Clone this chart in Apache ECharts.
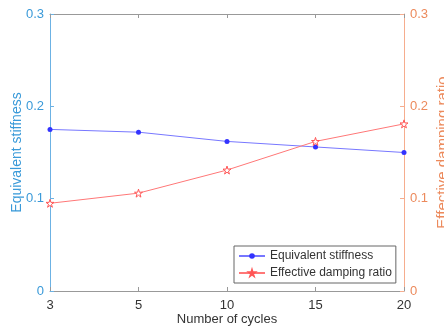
<!DOCTYPE html>
<html>
<head>
<meta charset="utf-8">
<script src="https://cdn.jsdelivr.net/npm/echarts@6/dist/echarts.min.js"></script>
<style>
  html, body { margin: 0; padding: 0; background: #fff; }
  #chart { width: 444px; height: 330px; }
</style>
</head>
<body>
<div id="chart"></div>
<script>
// 数据
var cycles = ['3', '5', '10', '15', '20'];
var stiffness = [0.175, 0.172, 0.162, 0.156, 0.150];
var damping = [0.095, 0.106, 0.131, 0.162, 0.181];

var star = 'path://M50,0 L61,35 L98,35 L68,57 L79,91 L50,70 L21,91 L32,57 L2,35 L39,35 Z';
var font = 'Liberation Sans, Arial, sans-serif';

var myChart = echarts.init(document.getElementById('chart'));
var option = {
    animation: false,
    textStyle: { fontFamily: font },
    grid: { left: 50, right: 40, top: 14, bottom: 39, outerBoundsMode: 'none', containLabel: false },
    legend: {
        left: 234, top: 246, orient: 'vertical',
        itemWidth: 26, itemHeight: 7, itemGap: 5,
        padding: [4, 4, 4, 4],
        borderColor: '#666', borderWidth: 1, backgroundColor: '#fff',
        textStyle: { fontSize: 12, color: '#333', fontFamily: font },
        data: ['Equivalent stiffness', 'Effective damping ratio']
    },
    xAxis: [{
        type: 'category', data: cycles, boundaryGap: false,
        name: 'Number of cycles', nameLocation: 'middle', nameGap: 22, nameMoveOverlap: false,
        nameTextStyle: { fontSize: 13, color: '#333' },
        axisLine: { show: true, onZero: false, lineStyle: { color: '#999' } },
        axisTick: { inside: true, length: 4, lineStyle: { color: '#999' } },
        axisLabel: { fontSize: 13, color: '#333', margin: 8 },
        splitLine: { show: false }
    }, {
        type: 'category', data: cycles, boundaryGap: false, position: 'top',
        axisLine: { show: true, onZero: false, lineStyle: { color: '#999' } },
        axisTick: { show: true, inside: true, length: 4, lineStyle: { color: '#999' } },
        axisLabel: { show: false },
        splitLine: { show: false }
    }],
    yAxis: [{
        type: 'value', min: 0, max: 0.3, interval: 0.1,
        name: 'Equivalent stiffness', nameLocation: 'middle', nameGap: 26, nameMoveOverlap: false,
        nameTextStyle: { fontSize: 14, color: '#3a9ad9' },
        axisLine: { show: true, lineStyle: { color: '#6cb2e4' } },
        axisTick: { show: true, inside: true, length: 4, lineStyle: { color: '#6cb2e4' } },
        axisLabel: { fontSize: 13, color: '#3a9ad9', margin: 6 },
        splitLine: { show: false }
    }, {
        type: 'value', min: 0, max: 0.3, interval: 0.1, position: 'right',
        name: 'Effective damping ratio', nameLocation: 'middle', nameGap: 31, nameMoveOverlap: false,
        nameTextStyle: { fontSize: 15, color: '#ec8a5c' },
        axisLine: { show: true, lineStyle: { color: '#f6ad8e' } },
        axisTick: { show: true, inside: true, length: 4, lineStyle: { color: '#f6ad8e' } },
        axisLabel: { fontSize: 13, color: '#ec8a5c', margin: 6 },
        splitLine: { show: false }
    }],
    series: [{
        name: 'Equivalent stiffness', type: 'line', data: stiffness,
        xAxisIndex: 0, yAxisIndex: 0,
        symbol: 'circle', symbolSize: 5,
        lineStyle: { color: '#7777ff', width: 1 },
        itemStyle: { color: '#3333ff' }
    }, {
        name: 'Effective damping ratio', type: 'line', data: damping,
        xAxisIndex: 0, yAxisIndex: 1,
        symbol: star, symbolSize: 8,
        lineStyle: { color: '#ff7777', width: 1 },
        itemStyle: { color: '#fff', borderColor: '#ff5555', borderWidth: 1 }
    }]
};
myChart.setOption(option);
</script>
</body>
</html>
